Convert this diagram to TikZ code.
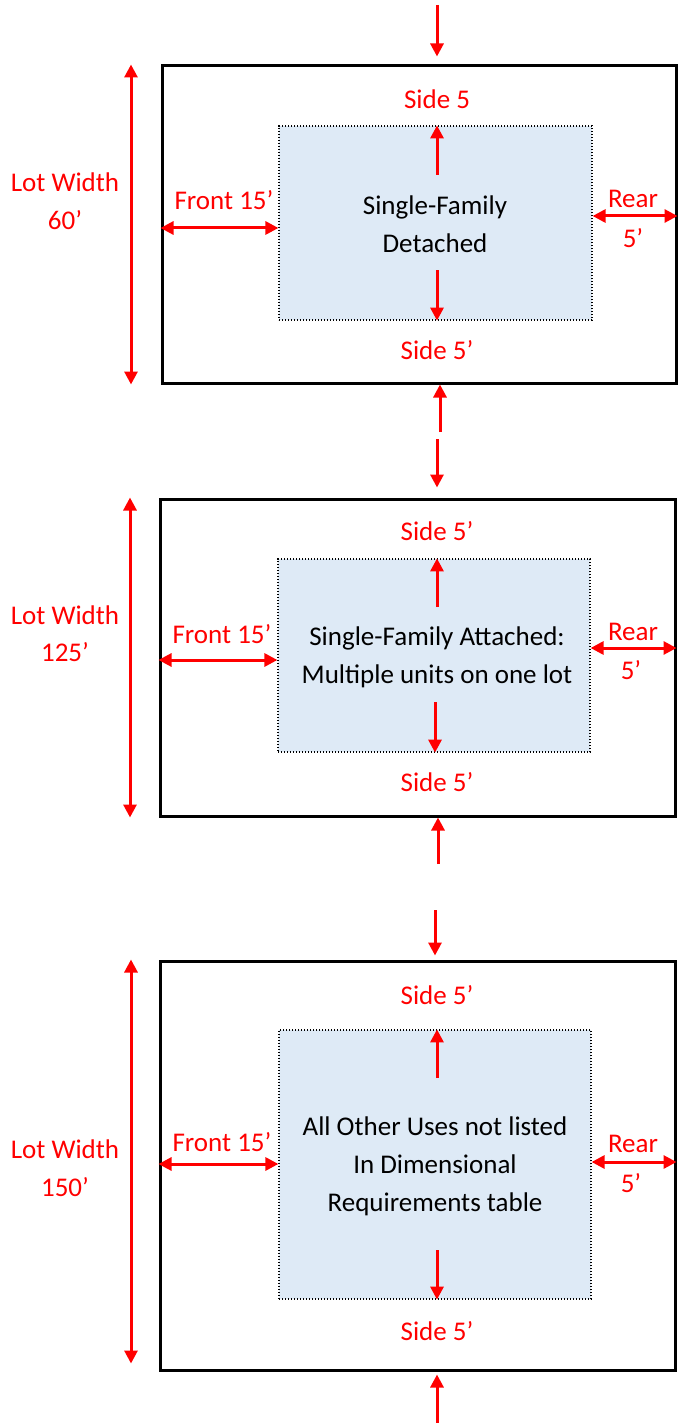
\documentclass[tikz,border=0pt]{standalone}
\usepackage{fontspec}
\setmainfont{Carlito}
\usetikzlibrary{arrows.meta}

\definecolor{setred}{HTML}{FF0000}
\definecolor{housefill}{HTML}{DEEAF6}

\tikzset{
    lot/.style={draw=black, line width=3pt, inner sep=0pt},
    house/.style={draw=black, fill=housefill, line width=1.2pt,
        dash pattern=on 1.2pt off 1.8pt, inner sep=0pt},
    dim/.style={setred, line width=3pt},
    lbl/.style={text=setred, inner sep=0pt, font=\fontsize{27}{38}\selectfont},
    use/.style={inner sep=0pt, align=center, font=\fontsize{27}{38}\selectfont},
    >={Triangle[width=13pt,length=13pt]}
}

\begin{document}
\begin{tikzpicture}[x=1pt, y=-1pt]
    \useasboundingbox (0,0) rectangle (683,1423);

    % Lot 1 - detached
    \node[lot, minimum width=514pt, minimum height=317pt] (lot1) at (419,224.5) {};
    \node[house, minimum width=313pt, minimum height=194pt] (house1) at (435.5,223) {};
    \node[use] (use1) at (435,224) {Single-Family\\Detached};

    \node[lbl] (sidetop1) at (437,99) {Side 5};
    \node[lbl] (sidebot1) at (437,350) {Side 5’};
    \node[lbl] (lw1) at (65,182) {Lot Width};
    \node[lbl] (lwv1) at (65,220) {60’};
    \node[lbl] (front1) at (224,200) {Front 15’};
    \node[lbl] (rear1) at (633,199) {Rear};
    \node[lbl] (rearv1) at (633,238) {5’};

    \coordinate (in1) at (437,5);
    \coordinate (up1) at (437,175);
    \coordinate (dn1) at (437,270);
    \coordinate (out1) at (440,432);
    \coordinate (lwx1) at (131,0);
    \coordinate (fr1) at (0,228);
    \coordinate (re1) at (0,216);

    \draw[dim,->,shorten >=8pt] (in1) -- (in1 |- lot1.north);
    \draw[dim,->] (up1) -- (up1 |- house1.north);
    \draw[dim,->] (dn1) -- (dn1 |- house1.south);
    \draw[dim,->] (out1) -- (out1 |- lot1.south);
    \draw[dim,<->] (lwx1 |- lot1.north) -- (lwx1 |- lot1.south);
    \draw[dim,<->] (lot1.west |- fr1) -- (house1.west |- fr1);
    \draw[dim,<->] (house1.east |- re1) -- (lot1.east |- re1);

    % Lot 2 - attached
    \node[lot, minimum width=515pt, minimum height=317pt] (lot2) at (417.5,657.5) {};
    \node[house, minimum width=312pt, minimum height=193pt] (house2) at (434,655.5) {};
    \node[use] (use2) at (437,657) {Single-Family Attached:\\Multiple units on one lot};

    \node[lbl] (sidetop2) at (437,531) {Side 5’};
    \node[lbl] (sidebot2) at (437,782) {Side 5’};
    \node[lbl] (lw2) at (65,615) {Lot Width};
    \node[lbl] (lwv2) at (65,652) {125’};
    \node[lbl] (front2) at (222,634) {Front 15’};
    \node[lbl] (rear2) at (633,632) {Rear};
    \node[lbl] (rearv2) at (631,670) {5’};

    \coordinate (in2) at (437,439);
    \coordinate (up2) at (437,607);
    \coordinate (dn2) at (435,702);
    \coordinate (out2) at (438,864);
    \coordinate (lwx2) at (130,0);
    \coordinate (fr2) at (0,660);
    \coordinate (re2) at (0,648);

    \draw[dim,->,shorten >=10pt] (in2) -- (in2 |- lot2.north);
    \draw[dim,->] (up2) -- (up2 |- house2.north);
    \draw[dim,->] (dn2) -- (dn2 |- house2.south);
    \draw[dim,->] (out2) -- (out2 |- lot2.south);
    \draw[dim,<->] (lwx2 |- lot2.north) -- (lwx2 |- lot2.south);
    \draw[dim,<->] (lot2.west |- fr2) -- (house2.west |- fr2);
    \draw[dim,<->] (house2.east |- re2) -- (lot2.east |- re2);

    % Lot 3 - all other uses
    \node[lot, minimum width=515pt, minimum height=409pt] (lot3) at (417.5,1165.5) {};
    \node[house, minimum width=312pt, minimum height=269pt] (house3) at (435,1164.5) {};
    \node[use] (use3) at (435,1166) {All Other Uses not listed\\In Dimensional\\Requirements table};

    \node[lbl] (sidetop3) at (437,995) {Side 5’};
    \node[lbl] (sidebot3) at (437,1331) {Side 5’};
    \node[lbl] (lw3) at (65,1149) {Lot Width};
    \node[lbl] (lwv3) at (65,1187) {150’};
    \node[lbl] (front3) at (222,1142) {Front 15’};
    \node[lbl] (rear3) at (633,1144) {Rear};
    \node[lbl] (rearv3) at (631,1183) {5’};

    \coordinate (in3) at (435,910);
    \coordinate (up3) at (437,1078);
    \coordinate (dn3) at (437,1250);
    \coordinate (out3) at (437,1423);
    \coordinate (lwx3) at (131,0);
    \coordinate (fr3) at (0,1164);
    \coordinate (re3) at (0,1162);

    \draw[dim,->,shorten >=4pt] (in3) -- (in3 |- lot3.north);
    \draw[dim,->] (up3) -- (up3 |- house3.north);
    \draw[dim,->] (dn3) -- (dn3 |- house3.south);
    \draw[dim,->,shorten >=3pt] (out3) -- (out3 |- lot3.south);
    \draw[dim,<->,shorten >=8pt] (lwx3 |- lot3.north) -- (lwx3 |- lot3.south);
    \draw[dim,<->] (lot3.west |- fr3) -- (house3.west |- fr3);
    \draw[dim,<->] (house3.east |- re3) -- (lot3.east |- re3);
\end{tikzpicture}
\end{document}
